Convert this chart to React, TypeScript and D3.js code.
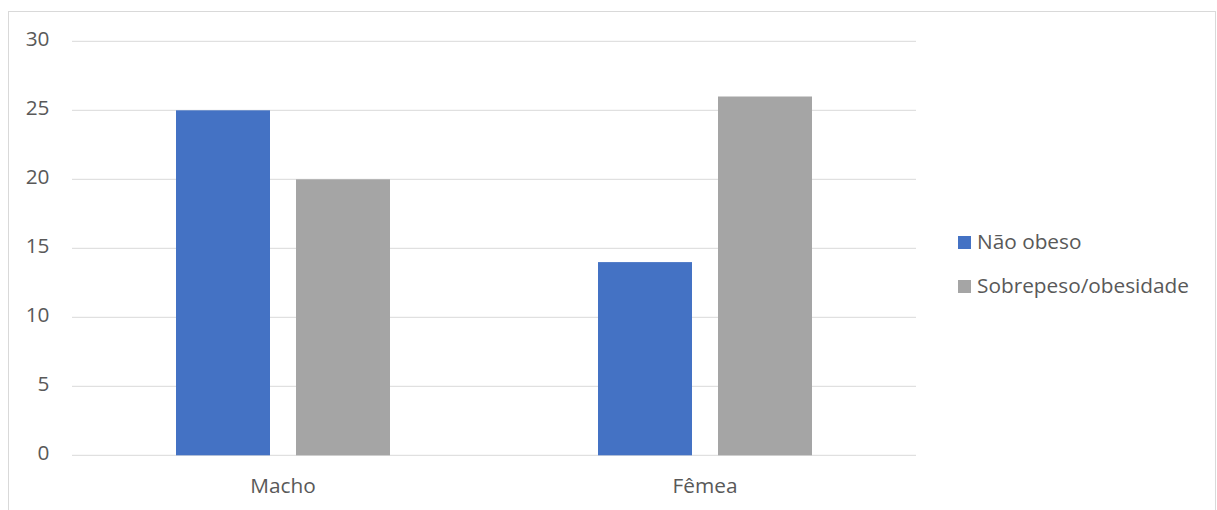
import React from "react";
import * as d3 from "d3";

const categories = ["Macho", "Fêmea"];
const seriesNames = ["Não obeso", "Sobrepeso/obesidade"];
const naoObeso = [25, 14];
const sobrepeso = [20, 26];
const yTicks = [0, 5, 10, 15, 20, 25, 30];
const colors = ["#4472C4", "#A5A5A5"];

export default function App() {
  const W = 1217, H = 510;
  const plot = { left: 72, right: 916, top: 41.3, bottom: 455.3 };
  const y = d3.scaleLinear().domain([0, 30]).range([plot.bottom, plot.top]);
  const x0 = d3.scaleBand().domain(categories).range([plot.left, plot.right]).padding(0);
  const outer = 104;
  const x1 = d3.scaleBand().domain(seriesNames).range([outer, x0.bandwidth() - outer]).paddingInner(26 / 120).paddingOuter(0);
  const series = [naoObeso, sobrepeso];
  const font = "'Open Sans', sans-serif";
  const fs = 20.8;
  return (
    <svg width={W} height={H} style={{ position: "absolute", left: 0, top: 0 }} fontFamily={font}>
      <rect x={0} y={0} width={W} height={H} fill="#fff" />
      <rect x={8.5} y={11.5} width={1207} height={520} fill="none" stroke="#D9D9D9" strokeWidth={1} />
      {yTicks.map((t) => (
        <g key={t}>
          <line x1={plot.left} x2={plot.right} y1={y(t)} y2={y(t)} stroke="#D9D9D9" strokeWidth={1} />
          <text x={49.5} y={y(t) + 4.6} textAnchor="end" fontSize={fs} fill="#595959">{t}</text>
        </g>
      ))}
      {categories.map((c, ci) => (
        <g key={c}>
          {seriesNames.map((s, si) => (
            <rect key={s} x={(x0(c) as number) + (x1(s) as number)} y={y(series[si][ci])}
              width={x1.bandwidth()} height={plot.bottom - y(series[si][ci])} fill={colors[si]} />
          ))}
          <text x={(x0(c) as number) + x0.bandwidth() / 2} y={492.7} textAnchor="middle" fontSize={fs} fill="#595959">{c}</text>
        </g>
      ))}
      {seriesNames.map((s, si) => (
        <g key={s} transform={`translate(958, ${236 + si * 44})`}>
          <rect x={0} y={0} width={13} height={13} fill={colors[si]} />
          <text x={19} y={13.2} fontSize={fs} fill="#595959">{s}</text>
        </g>
      ))}
    </svg>
  );
}
